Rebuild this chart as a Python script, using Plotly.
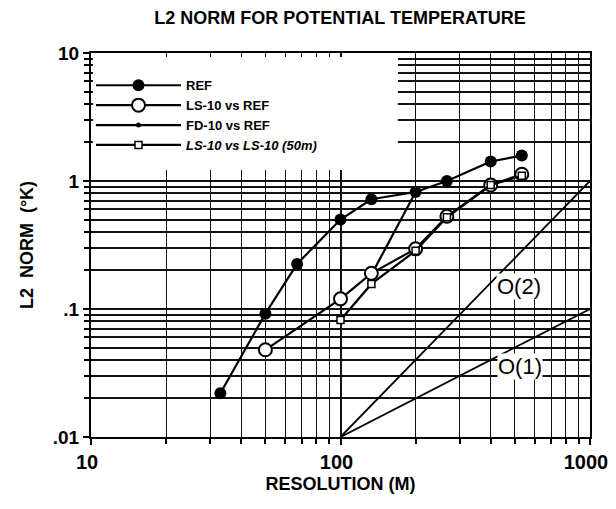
import plotly.graph_objects as go

# ---- data ----
res_ref = [33, 50, 67, 100, 133, 200, 267, 400, 533]
l2_ref = [0.022, 0.092, 0.225, 0.5, 0.72, 0.82, 1.0, 1.42, 1.58]

res_ls = [50, 100, 133, 200, 267, 400, 533]
l2_ls = [0.048, 0.12, 0.19, 0.295, 0.53, 0.93, 1.13]

res_fd = [133, 200]
l2_fd = [0.185, 0.82]

res_ls50 = [100, 133, 200, 267, 400, 533]
l2_ls50 = [0.082, 0.157, 0.285, 0.52, 0.93, 1.1]

res_order = [100, 1000]
l2_o1 = [0.01, 0.1]
l2_o2 = [0.01, 1.0]

x_tickvals = [10, 100, 1000]
x_ticktext = ["10", "100", "1000"]
y_tickvals = [0.01, 0.1, 1, 10]
y_ticktext = [".01", ".1", "1", "10"]

x_minor = [m * d for d in (10, 100) for m in range(2, 10)]
y_minor = [m * d for d in (0.01, 0.1, 1) for m in range(2, 10)]

FONT = "Liberation Sans, Arial, sans-serif"

fig = go.Figure()

# order lines
fig.add_trace(go.Scatter(x=res_order, y=l2_o2, mode="lines", line=dict(color="black", width=1.8),
                         showlegend=False, hoverinfo="skip"))
fig.add_trace(go.Scatter(x=res_order, y=l2_o1, mode="lines", line=dict(color="black", width=1.8),
                         showlegend=False, hoverinfo="skip"))

fig.add_trace(go.Scatter(x=res_fd, y=l2_fd, mode="lines+markers", name="FD-10 vs REF",
                         line=dict(color="black", width=2.2),
                         marker=dict(symbol="circle", size=5, color="black"),
                         legendrank=3))
fig.add_trace(go.Scatter(x=res_ref, y=l2_ref, mode="lines+markers", name="REF",
                         line=dict(color="black", width=2.2),
                         marker=dict(symbol="circle", size=12, color="black"),
                         legendrank=1))
fig.add_trace(go.Scatter(x=res_ls, y=l2_ls, mode="lines+markers", name="LS-10 vs REF",
                         line=dict(color="black", width=2.2),
                         marker=dict(symbol="circle", size=13, color="white",
                                     line=dict(color="black", width=2)),
                         legendrank=2))
fig.add_trace(go.Scatter(x=res_ls50, y=l2_ls50, mode="lines+markers",
                         name="<i>LS-10 vs LS-10 (50m)</i>",
                         line=dict(color="black", width=2.2),
                         marker=dict(symbol="square", size=7, color="white",
                                     line=dict(color="black", width=1.5)),
                         legendrank=4))

axis_common = dict(
    type="log",
    showline=True, linecolor="black", linewidth=2, mirror=True,
    showgrid=True, gridcolor="#111", gridwidth=1.6,
    ticks="outside", ticklen=6, tickwidth=2, tickcolor="black",
    zeroline=False, automargin=False, ticklabeloverflow="allow",
)

fig.update_xaxes(
    **axis_common,
    range=[1, 3],
    tickmode="array", tickvals=x_tickvals, ticktext=x_ticktext,
    tickfont=dict(family=FONT, size=20, color="black", weight="bold"),
    ticklabelshift=-4,
    minor=dict(tickmode="array", tickvals=x_minor, showgrid=True, gridcolor="#111",
               gridwidth=1.4, ticks="outside", ticklen=5, tickwidth=1.5, tickcolor="black"),
    title=dict(text="RESOLUTION (M)", font=dict(family=FONT, size=18, color="black", weight="bold"),
               standoff=5),
)
fig.update_yaxes(
    **axis_common,
    range=[-2, 1],
    tickmode="array", tickvals=y_tickvals, ticktext=y_ticktext,
    tickfont=dict(family=FONT, size=19, color="black", weight="bold"),
    minor=dict(tickmode="array", tickvals=y_minor, showgrid=True, gridcolor="#111",
               gridwidth=1.6, ticks="outside", ticklen=5, tickwidth=1.5, tickcolor="black"),
    title=dict(text="L2  NORM  (°K)", font=dict(family=FONT, size=18, color="black", weight="bold"),
               standoff=14),
)

fig.add_annotation(x=2.716, y=-0.828, xref="x", yref="y", text="O(2)", showarrow=False,
                   font=dict(family=FONT, size=22, color="black"), bgcolor="white", borderpad=0)
fig.add_annotation(x=2.718, y=-1.453, xref="x", yref="y", text="O(1)", showarrow=False,
                   font=dict(family=FONT, size=22, color="black"), bgcolor="white", borderpad=0)

# white backing behind the legend (hides the grid there)
fig.add_shape(type="rect", xref="paper", yref="paper", x0=0.004, x1=0.615, y0=0.695, y1=0.9896,
              fillcolor="white", line=dict(width=0), layer="above")

# the page body adds an 8px margin, so the figure is sized to fit without scrolling
fig.update_layout(
    width=600, height=493,
    margin=dict(l=83, r=18, t=45, b=64),
    paper_bgcolor="white", plot_bgcolor="white",
    title=dict(text="L2 NORM FOR POTENTIAL TEMPERATURE", x=0.5533, xanchor="center",
               y=0.9797, yanchor="middle",
               font=dict(family=FONT, size=18, color="black", weight="bold")),
    legend=dict(x=0.0, y=0.955, xanchor="left", yanchor="top", bgcolor="rgba(0,0,0,0)",
                borderwidth=0, itemwidth=85,
                font=dict(family=FONT, size=13, color="black", weight="bold"),
                tracegroupgap=0),
    showlegend=True,
)

fig.write_html("out.html")
